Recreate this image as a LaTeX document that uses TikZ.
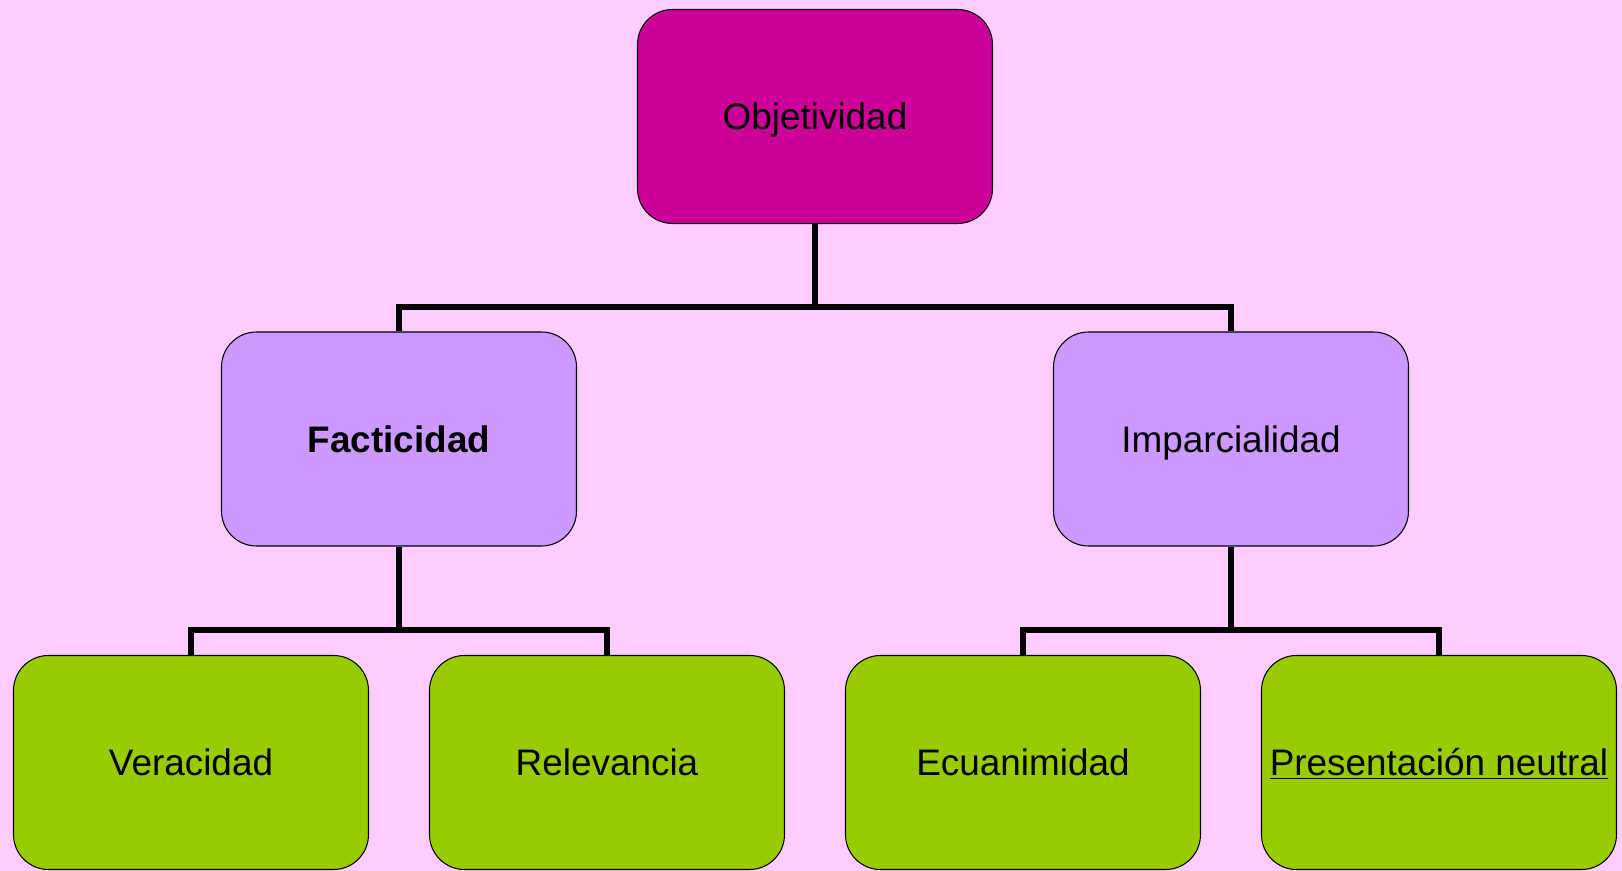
\documentclass[tikz,border=0pt]{standalone}
\usepackage{fontspec}
\setmainfont{Liberation Sans}
\usepackage{tikz}
\usetikzlibrary{calc}
\definecolor{fondo}{HTML}{FFCCFF}
\definecolor{raiz}{HTML}{CC0099}
\definecolor{rama}{HTML}{CC99FF}
\definecolor{hoja}{HTML}{99CC00}

\begin{document}
\begin{tikzpicture}[
  caja/.style={draw=black, line width=0.6pt, rounded corners=0.7cm,
    minimum width=7.1cm, minimum height=4.28cm, align=center,
    text height=15pt, text depth=0pt,
    font=\fontsize{21}{25}\selectfont},
  link/.style={draw=black, line width=3.4pt}]
  \fill[fondo] (0,0) rectangle (32.44,-17.42);
  \useasboundingbox (0,0) rectangle (32.44,-17.42);
  % niveles
  \node[caja, fill=raiz] (obj) at (16.3,-2.33) {Objetividad};
  \node[caja, fill=rama] (fac) at (7.98,-8.78) {\textbf{Facticidad}};
  \node[caja, fill=rama] (imp) at (24.62,-8.78) {Imparcialidad};
  \node[caja, fill=hoja] (ver) at (3.82,-15.25) {Veracidad};
  \node[caja, fill=hoja] (rel) at (12.14,-15.25) {Relevancia};
  \node[caja, fill=hoja] (ecu) at (20.46,-15.25) {Ecuanimidad};
  \node[caja, fill=hoja] (pre) at (28.78,-15.25) {\underline{Presentación neutral}};
  % buses
  \coordinate (b1) at (16.3,-6.14);
  \coordinate (b2) at (7.98,-12.6);
  \coordinate (b3) at (24.62,-12.6);
  \draw[link] (obj.south) -- (b1);
  \draw[link] (fac.north) |- (b1) -| (imp.north);
  \draw[link] (fac.south) -- (b2);
  \draw[link] (ver.north) |- (b2) -| (rel.north);
  \draw[link] (imp.south) -- (b3);
  \draw[link] (ecu.north) |- (b3) -| (pre.north);
\end{tikzpicture}
\end{document}
